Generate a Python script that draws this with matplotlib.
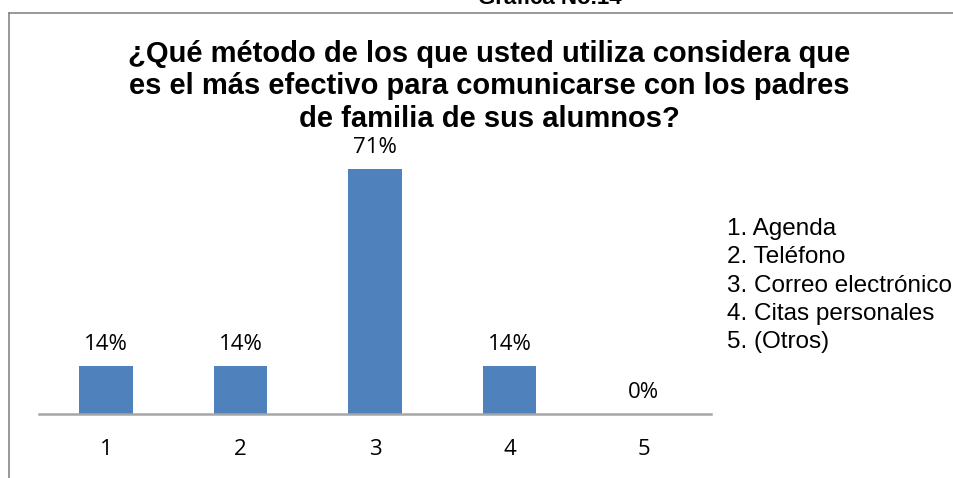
import matplotlib.pyplot as plt
from matplotlib.lines import Line2D

categories = ['1', '2', '3', '4', '5']
values = [14, 14, 71, 14, 0]
value_labels = ['14%', '14%', '71%', '14%', '0%']
legend_items = ['1. Agenda', '2. Teléfono', '3. Correo electrónico',
                '4. Citas personales', '5. (Otros)']
title_lines = ['¿Qué método de los que usted utiliza considera que',
               'es el más efectivo para comunicarse con los padres',
               'de familia de sus alumnos?']
header = 'Gráfica No.14'

W, H = 954, 478
plt.rcParams['font.family'] = ['Liberation Sans', 'DejaVu Sans']
fig = plt.figure(figsize=(W / 100, H / 100), dpi=100)


def fy(py):
    # pixel desde arriba -> coordenada de figura
    return 1 - py / H


# marco del gráfico
fig.add_artist(Line2D([9.5 / W, 9.5 / W], [0, fy(12.5)], color='#868686', lw=1.2))
fig.add_artist(Line2D([9.5 / W, 1], [fy(12.5), fy(12.5)], color='#868686', lw=1.2))

fig.text(550 / W, fy(4), header, ha='center', va='baseline',
         fontsize=16, fontweight='bold')
for i, line in enumerate(title_lines):
    fig.text(489 / W, fy(62 + i * 32.5), line, ha='center', va='baseline',
             fontsize=21, fontweight='bold')

ax = fig.add_axes([39 / W, fy(414), (711 - 39) / W, (414 - 140) / H])
x = list(range(len(categories)))
ax.bar(x, values, width=0.40, color='#4f81bd', zorder=2)
ax.set_xlim(-0.5, 4.5)
ax.set_ylim(0, 71 * (414 - 140) / (414 - 169))

for xi, v, lab in zip(x, values, value_labels):
    ax.annotate(lab, (xi, v), xytext=(0, 16), textcoords='offset pixels',
                ha='center', va='baseline', fontsize=16,
                family=['Open Sans', 'DejaVu Sans'])

ax.set_xticks(x)
ax.set_xticklabels(categories, fontsize=16, family=['Open Sans', 'DejaVu Sans'])
ax.tick_params(axis='x', length=0, pad=18)
ax.set_yticks([])
for s in ['left', 'right', 'top']:
    ax.spines[s].set_visible(False)
ax.spines['bottom'].set_color('#a6a6a6')
ax.spines['bottom'].set_linewidth(1.8)

for i, item in enumerate(legend_items):
    fig.text(727 / W, fy(235 + i * 28.3), item, ha='left', va='baseline',
             fontsize=17.5)

fig.savefig('out.png', dpi=100)
